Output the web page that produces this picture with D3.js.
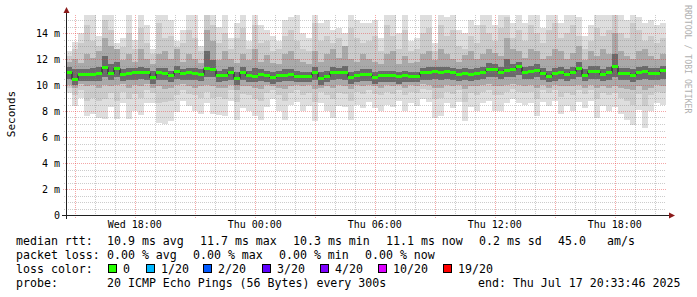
<!DOCTYPE html>
<html>
<head>
<script src="https://d3js.org/d3.v7.min.js"></script>
<style>
	body{ margin:0; background:#fff; }
	text{ font-family:"DejaVu Sans Mono", monospace; }
</style>
</head>
<body>
<script>

var width = 697,
	height = 297;

// 30 hours ending Thu Jul 17 20:33:46 2025, 100 bins of 18 minutes
var start = new Date(2025, 6, 16, 14, 33, 46),
	end = new Date(2025, 6, 17, 20, 33, 46),
	step = 18 * 60 * 1000;

// median rtt per bin (ms)
var median = [11.0,10.4,10.8,10.8,10.8,10.9,11.35,10.85,11.3,10.8,
	10.85,10.95,10.95,10.95,10.55,10.95,10.9,10.7,11.05,10.85,
	10.95,10.9,10.8,11.3,11.2,10.7,10.75,11.0,10.5,11.0,
	10.7,10.68,10.8,10.72,10.55,10.7,10.75,10.8,10.65,10.64,
	10.64,10.95,10.5,10.64,10.95,10.98,10.95,10.6,10.7,10.8,
	10.8,10.6,10.7,10.7,10.7,10.62,10.72,10.66,10.64,10.95,
	10.98,11.05,10.95,11.05,10.95,10.8,10.9,10.78,10.9,11.0,
	11.2,11.2,11.0,11.15,11.2,11.4,11.0,11.05,11.15,10.9,
	10.65,10.85,10.98,10.8,11.0,11.3,10.75,11.05,11.05,10.8,
	10.95,11.45,10.9,10.9,10.75,10.95,11.05,10.9,10.9,11.1];

// smoke: outer (min..max ping), light, middle and core bands (ms)
var outerLo = [9.4,8.4,9.0,7.6,7.8,7.5,7.4,8.3,7.4,8.6,
	7.4,8.0,7.7,8.6,8.6,7.1,7.0,7.2,7.9,8.8,
	8.4,8.0,7.8,8.6,7.8,7.7,7.6,8.8,7.3,8.2,
	8.0,7.6,7.3,8.3,8.9,8.0,7.3,8.5,8.7,8.0,
	8.4,7.2,8.6,8.0,7.5,8.4,8.3,7.3,8.5,8.2,
	8.7,8.2,8.0,8.5,8.3,8.8,8.0,8.6,8.4,8.9,
	8.7,7.5,7.6,8.6,8.2,8.7,7.2,8.3,8.0,8.6,
	8.8,8.0,8.0,8.6,8.9,8.6,8.5,8.6,7.6,8.7,
	8.4,8.8,7.8,8.4,8.0,8.7,8.2,8.8,7.5,8.4,
	8.0,8.3,7.8,7.3,6.9,8.1,6.7,8.0,8.6,8.5];

var outerHi = [12.6,13.3,14.0,15.4,15.4,13.8,15.4,15.4,13.2,13.6,
	15.4,13.5,15.4,14.6,12.8,15.4,15.4,15.0,13.4,14.2,
	15.4,15.4,13.0,15.4,15.4,14.5,15.4,13.6,14.8,15.4,
	13.4,15.4,14.6,14.2,13.8,13.4,15.0,15.2,15.4,14.0,
	13.6,15.4,14.8,15.0,14.2,14.4,14.0,15.4,15.0,14.8,
	14.8,15.0,13.6,15.4,15.4,14.0,15.4,13.4,13.6,15.4,
	15.4,13.2,15.4,15.2,15.4,14.2,14.0,15.0,14.6,15.4,
	15.4,14.6,15.4,15.4,14.8,15.4,14.8,15.4,15.4,14.4,
	15.4,15.4,14.8,15.4,15.4,15.2,13.8,14.6,15.4,15.4,
	15.4,15.4,15.4,15.0,15.4,15.2,14.8,15.0,14.6,14.8];

var lightLo = [9.8,9.2,9.6,8.8,9.0,8.8,8.9,9.4,8.8,9.5,
	8.9,9.3,9.0,9.6,9.4,8.6,8.7,8.8,9.2,9.6,
	9.3,9.2,9.0,9.5,9.0,9.1,8.9,9.6,8.7,9.3,
	9.2,8.9,8.8,9.4,9.6,9.2,8.8,9.4,9.6,9.2,
	9.4,8.7,9.5,9.2,8.9,9.4,9.3,8.8,9.5,9.3,
	9.6,9.3,9.2,9.5,9.3,9.6,9.2,9.5,9.4,9.7,
	9.6,8.9,9.0,9.5,9.3,9.6,8.7,9.4,9.2,9.5,
	9.6,9.2,9.2,9.5,9.7,9.5,9.4,9.5,8.9,9.6,
	9.4,9.6,9.1,9.4,9.2,9.6,9.3,9.6,8.9,9.4,
	9.2,9.4,9.0,8.8,8.5,9.3,8.4,9.2,9.5,9.4];

var lightHi = [12.2,12.8,13.2,14.6,13.4,13.0,15.0,14.2,12.8,12.9,
	14.0,12.8,14.4,13.2,12.4,14.8,13.6,13.8,12.9,13.2,
	14.2,13.6,12.6,15.4,14.6,13.2,14.0,12.8,13.6,14.4,
	12.8,14.6,13.2,13.4,12.6,12.8,13.8,14.2,13.4,12.8,
	12.6,14.8,13.4,13.8,13.2,13.6,13.0,14.4,13.6,13.2,
	13.4,13.8,12.6,14.6,13.8,12.8,14.2,12.6,12.8,14.0,
	14.4,12.6,14.6,13.8,14.2,13.0,12.8,13.8,13.2,14.6,
	14.0,13.4,14.4,15.2,13.6,14.2,13.4,14.6,14.0,13.2,
	14.2,14.8,13.6,14.0,14.6,13.8,12.8,13.4,14.4,13.8,
	14.2,15.4,14.0,13.6,14.8,14.2,13.4,13.8,13.2,13.6];

var midLo = [10.0,9.8,10.1,9.9,10.0,9.8,10.0,9.9,10.0,10.1,
	9.8,10.0,9.9,10.1,9.8,9.9,9.7,9.8,10.0,10.1,
	9.9,9.8,9.9,10.0,9.9,9.8,9.8,10.0,9.6,9.9,
	9.9,9.8,9.7,10.0,9.9,9.8,9.7,9.9,10.0,9.9,
	10.0,9.7,9.8,9.9,9.8,10.0,9.9,9.7,10.0,9.9,
	10.0,9.9,9.8,10.0,9.9,10.0,9.8,10.0,9.9,10.1,
	10.0,9.8,9.8,10.0,9.9,10.0,9.7,9.9,9.9,10.0,
	10.1,9.9,9.9,10.0,10.1,10.0,9.9,10.0,9.8,10.0,
	9.8,10.0,9.9,9.9,9.9,10.0,9.8,10.0,9.8,9.9,
	9.8,9.9,9.8,9.7,9.6,9.9,9.6,9.8,10.0,9.9];

var midHi = [11.8,12.0,11.7,12.4,12.1,12.6,13.6,13.0,12.8,11.9,
	12.4,11.8,12.8,12.0,11.6,12.4,12.6,12.0,12.8,11.8,
	12.4,12.0,11.7,14.2,13.4,11.9,12.6,12.0,11.7,12.4,
	11.9,12.8,11.8,12.3,11.7,11.6,12.4,12.6,12.0,11.8,
	11.6,12.6,11.8,12.4,12.8,12.1,13.0,12.0,11.8,12.4,
	12.0,11.8,11.6,12.4,12.6,11.6,12.2,11.7,11.8,12.4,
	12.6,11.9,12.8,12.4,12.0,11.8,12.3,12.6,12.0,12.4,
	12.8,12.5,12.2,13.6,12.8,12.6,12.1,12.8,12.6,12.0,
	12.2,12.8,12.6,12.0,12.5,13.0,11.9,12.6,12.2,12.8,
	12.4,14.0,12.6,12.2,12.0,12.6,12.8,12.2,12.0,12.4];

var coreLo = [10.5,10.0,10.3,10.3,10.3,10.3,10.6,10.4,10.6,10.3,
	10.4,10.4,10.5,10.4,10.1,10.4,10.4,10.2,10.5,10.4,
	10.4,10.4,10.3,10.6,10.6,10.2,10.3,10.4,10.0,10.4,
	10.2,10.2,10.3,10.2,10.1,10.2,10.3,10.3,10.2,10.2,
	10.2,10.4,10.0,10.2,10.4,10.5,10.4,10.1,10.2,10.3,
	10.3,10.1,10.2,10.2,10.2,10.1,10.2,10.2,10.2,10.4,
	10.4,10.5,10.4,10.5,10.4,10.3,10.4,10.3,10.4,10.5,
	10.6,10.6,10.5,10.6,10.6,10.8,10.5,10.5,10.6,10.4,
	10.2,10.3,10.5,10.3,10.5,10.6,10.3,10.5,10.5,10.3,
	10.4,10.6,10.4,10.4,10.2,10.4,10.5,10.4,10.4,10.5];

var coreHi = [11.4,11.2,11.2,11.2,11.3,11.4,12.2,11.6,11.8,11.2,
	11.3,11.3,11.4,11.3,11.1,11.3,11.3,11.1,11.5,11.2,
	11.3,11.3,11.2,12.6,11.9,11.1,11.2,11.4,11.0,11.4,
	11.1,11.3,11.2,11.1,11.0,11.1,11.2,11.2,11.1,11.0,
	11.0,11.4,11.0,11.1,11.4,11.3,11.5,11.0,11.1,11.2,
	11.2,11.0,11.1,11.1,11.1,11.0,11.1,11.0,11.0,11.3,
	11.4,11.4,11.4,11.4,11.3,11.2,11.3,11.2,11.3,11.4,
	11.7,11.6,11.4,12.0,11.6,11.8,11.4,11.5,11.6,11.3,
	11.1,11.3,11.4,11.2,11.4,11.8,11.2,11.5,11.5,11.2,
	11.4,12.4,11.3,11.3,11.2,11.4,11.5,11.3,11.3,11.5];

var lossColors = ["#26ff00","#00b8ff","#0059ff","#5e00ff","#7e00ff","#dd00ff","#ff0000"];
var lossLabels = ["0","1/20","2/20","3/20","4/20","10/20","19/20"];

var svg = d3.select("body")
	.append("svg")
	.attr("width", width)
	.attr("height", height);

var x = d3.scaleTime()
	.domain([start, end])
	.range([66, 666]);

var y = d3.scaleLinear()
	.domain([0, 200 / 13])
	.range([215, 15]);

function binTime(i){ return new Date(start.getTime() + i * step); }

svg.append("clipPath").attr("id", "plot")
	.append("rect").attr("x", 66).attr("y", 15).attr("width", 600).attr("height", 200);

// smoke
var smoke = svg.append("g")
	.attr("clip-path", "url(#plot)")
	.attr("shape-rendering", "crispEdges");

var bands = [
	{lo: outerLo, hi: outerHi, color: "#dedede"},
	{lo: lightLo, hi: lightHi, color: "#cbcbcb"},
	{lo: midLo, hi: midHi, color: "#a9a9a9"},
	{lo: coreLo, hi: coreHi, color: "#6a6a6a"}
];

bands.forEach(function(b){
	smoke.append("g").selectAll("rect")
		.data(d3.range(median.length))
		.enter()
		.append("rect")
		.attr("x", function(i){ return x(binTime(i)); })
		.attr("width", function(i){ return x(binTime(i + 1)) - x(binTime(i)); })
		.attr("y", function(i){ return y(b.hi[i]); })
		.attr("height", function(i){ return y(b.lo[i]) - y(b.hi[i]); })
		.attr("fill", b.color);
});

// grid on top
var grid = svg.append("g").attr("shape-rendering", "crispEdges");

var minorX = x.ticks(d3.timeHour.every(1)),
	majorX = x.ticks(d3.timeHour.every(3)),
	labelX = x.ticks(d3.timeHour.every(6));

grid.selectAll(".vmin")
	.data(minorX.filter(function(d){ return d.getHours() % 3 != 0; }))
	.enter().append("line")
	.attr("x1", function(d){ return Math.round(x(d)) + 0.5; })
	.attr("x2", function(d){ return Math.round(x(d)) + 0.5; })
	.attr("y1", 15).attr("y2", 217)
	.attr("stroke", "rgba(128,128,128,0.4)")
	.attr("stroke-dasharray", "1,1");

var minorY = d3.range(0.5, 15.4, 0.5).filter(function(v){ return v % 2 != 0; }),
	majorY = d3.range(2, 15.4, 2);

grid.selectAll(".hmin")
	.data(minorY)
	.enter().append("line")
	.attr("x1", 64).attr("x2", 666)
	.attr("y1", function(d){ return Math.round(y(d)) + 0.5; })
	.attr("y2", function(d){ return Math.round(y(d)) + 0.5; })
	.attr("stroke", "rgba(128,128,128,0.4)")
	.attr("stroke-dasharray", "1,1");

grid.selectAll(".vmaj")
	.data(majorX)
	.enter().append("line")
	.attr("x1", function(d){ return Math.round(x(d)) + 0.5; })
	.attr("x2", function(d){ return Math.round(x(d)) + 0.5; })
	.attr("y1", 15).attr("y2", 218)
	.attr("stroke", "rgba(230,60,60,0.45)")
	.attr("stroke-dasharray", "1,1");

grid.selectAll(".hmaj")
	.data(majorY)
	.enter().append("line")
	.attr("x1", 63).attr("x2", 666)
	.attr("y1", function(d){ return Math.round(y(d)) + 0.5; })
	.attr("y2", function(d){ return Math.round(y(d)) + 0.5; })
	.attr("stroke", "rgba(230,60,60,0.45)")
	.attr("stroke-dasharray", "1,1");

// median: dark step line then loss-coloured blocks
var medPts = median.map(function(v, i){ return [binTime(i), v]; });
medPts.push([end, median[median.length - 1]]);

svg.append("path")
	.datum(medPts)
	.attr("clip-path", "url(#plot)")
	.attr("d", d3.line()
		.curve(d3.curveStepAfter)
		.x(function(d){ return x(d[0]); })
		.y(function(d){ return y(d[1]); }))
	.attr("fill", "none")
	.attr("stroke", "#202020")
	.attr("stroke-width", 1);

svg.append("g")
	.attr("shape-rendering", "crispEdges")
	.selectAll("rect")
	.data(d3.range(median.length))
	.enter()
	.append("rect")
	.attr("x", function(i){ return x(binTime(i)); })
	.attr("width", function(i){ return x(binTime(i + 1)) - x(binTime(i)); })
	.attr("y", function(i){ return y(median[i]) - 1.5; })
	.attr("height", 3)
	.attr("fill", lossColors[0]);

// axes
var axes = svg.append("g").attr("shape-rendering", "crispEdges");
axes.append("line")
	.attr("x1", 62).attr("x2", 670).attr("y1", 215.5).attr("y2", 215.5)
	.attr("stroke", "#202020");
axes.append("line")
	.attr("x1", 66.5).attr("x2", 66.5).attr("y1", 219).attr("y2", 12)
	.attr("stroke", "#202020");

svg.append("path")
	.attr("d", "M63.5,13 L69.5,13 L66.5,7 Z")
	.attr("fill", "#8b1a1a");
svg.append("path")
	.attr("d", "M669,212.5 L669,218.5 L675,215.5 Z")
	.attr("fill", "#8b1a1a");

svg.append("g").selectAll("text")
	.data(majorY.concat([0]))
	.enter().append("text")
	.attr("x", 60)
	.attr("y", function(d){ return y(d) + 3.5; })
	.attr("text-anchor", "end")
	.attr("font-size", "10px")
	.attr("fill", "#000")
	.text(function(d){ return d == 0 ? "0" : d + " m"; });

svg.append("g").selectAll("text")
	.data(labelX)
	.enter().append("text")
	.attr("x", function(d){ return x(d); })
	.attr("y", 228)
	.attr("text-anchor", "middle")
	.attr("font-size", "10px")
	.attr("fill", "#000")
	.text(d3.timeFormat("%a %H:%M"));

svg.append("text")
	.attr("transform", "translate(15,114) rotate(-90)")
	.attr("text-anchor", "middle")
	.attr("font-size", "11px")
	.text("Seconds");

svg.append("text")
	.attr("transform", "translate(685,5) rotate(90)")
	.attr("font-size", "8.2px")
	.attr("fill", "#b0b0b0")
	.text("RRDTOOL / TOBI OETIKER");

// legend
var legend = svg.append("g")
	.attr("font-size", "11.6px")
	.attr("fill", "#000")
	.style("white-space", "pre");

function item(tx, ty, s){
	legend.append("text").attr("x", tx).attr("y", ty).text(s);
}

item(16, 245, "median rtt:");
item(107, 245, "10.9 ms avg");
item(200, 245, "11.7 ms max");
item(293, 245, "10.3 ms min");
item(386, 245, "11.1 ms now");
item(479, 245, "0.2 ms sd");
item(558, 245, "45.0");
item(607, 245, "am/s");

item(16, 259, "packet loss:");
item(107, 259, "0.00 % avg");
item(193, 259, "0.00 % max");
item(279, 259, "0.00 % min");
item(365, 259, "0.00 % now");

item(16, 273, "loss color:");
var boxX = [108, 146, 203, 262, 320, 378, 443];
lossLabels.forEach(function(l, i){
	legend.append("rect")
		.attr("x", boxX[i] + 0.5).attr("y", 264.5)
		.attr("width", 8).attr("height", 8)
		.attr("fill", lossColors[i])
		.attr("stroke", "#000");
	item(boxX[i] + 15, 273, l);
});

item(16, 287, "probe:");
item(107, 287, "20 ICMP Echo Pings (56 Bytes) every 300s");
item(478, 287, "end: Thu Jul 17 20:33:46 2025");

</script>
</body>
</html>
